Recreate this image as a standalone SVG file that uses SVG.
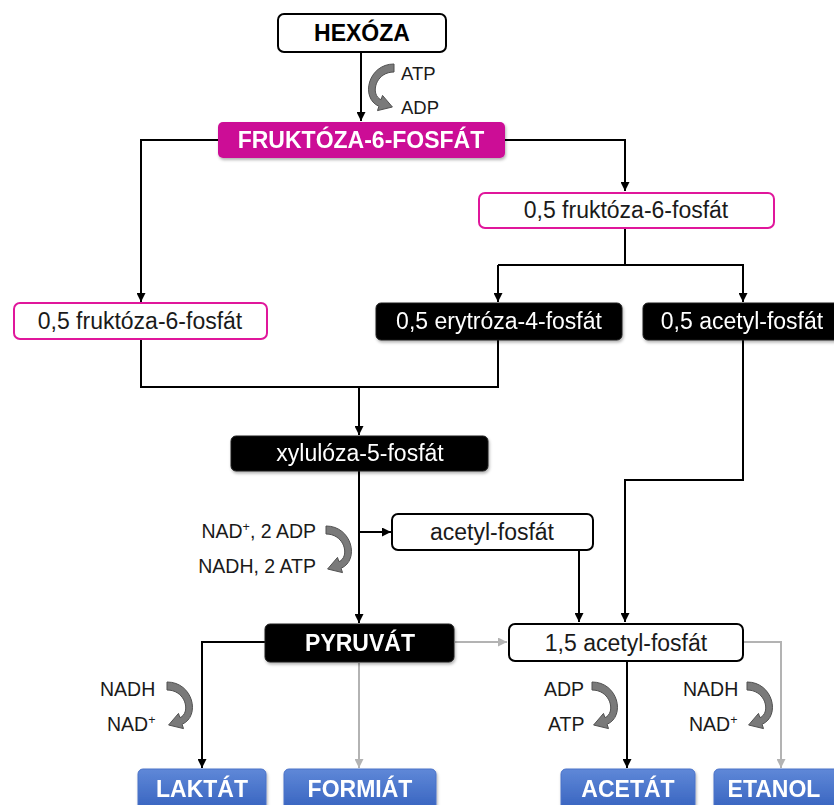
<svg xmlns="http://www.w3.org/2000/svg" width="834" height="805" viewBox="0 0 834 805">
<defs>
<style>
text{font-family:"Liberation Sans",Arial,sans-serif;}
.t{font-size:23px;fill:#1a1a1a;text-anchor:middle;}
.tw{font-size:23px;fill:#fff;text-anchor:middle;}
.b{font-size:23px;font-weight:bold;text-anchor:middle;}
.lbl{font-size:19.5px;fill:#1a1a1a;}
.lbs{font-size:18.5px;fill:#1a1a1a;}
.wbox{fill:#fff;stroke:#000;stroke-width:2;}
.pbox{fill:#fff;stroke:#e0169b;stroke-width:2;}
.kbox{fill:#000;stroke:#222;stroke-width:1;}
.blue{fill:url(#bg);stroke:#4a72c8;stroke-width:1;}
.c{fill:none;stroke:#000;stroke-width:2;}
.g{fill:none;stroke:#b3b3b3;stroke-width:2;}
.curl{fill:#7a7a7a;stroke:#505050;stroke-width:1;}
</style>
<linearGradient id="bg" x1="0" y1="0" x2="0" y2="1">
<stop offset="0" stop-color="#5f88d8"/>
<stop offset="1" stop-color="#3460bd"/>
</linearGradient>
<filter id="sh" x="-10%" y="-20%" width="120%" height="150%">
<feDropShadow dx="1" dy="2" stdDeviation="1.5" flood-color="#000" flood-opacity="0.3"/>
</filter>
<marker id="ah" viewBox="0 0 10 10" refX="10" refY="5" markerWidth="9" markerHeight="9" markerUnits="userSpaceOnUse" orient="auto">
<path d="M0,0 L10,5 L0,10 z" fill="#000"/>
</marker>
<marker id="ahg" viewBox="0 0 10 10" refX="10" refY="5" markerWidth="9" markerHeight="9" markerUnits="userSpaceOnUse" orient="auto">
<path d="M0,0 L10,5 L0,10 z" fill="#b3b3b3"/>
</marker>
<path id="curl" class="curl" d="M0,-4 C26,-4 34,30 15.1,38.3 L16.5,42.6 L1.6,39 L11.5,27.4 L12.9,31.7 C24,27 19,4 0,4 Z"/>
</defs>
<rect width="834" height="805" fill="#fff"/>

<g id="connectors">
<path class="c" d="M361,52 V121" marker-end="url(#ah)"/>
<path class="c" d="M218,140 H141 V302" marker-end="url(#ah)"/>
<path class="c" d="M505,140 H625 V191" marker-end="url(#ah)"/>
<path class="c" d="M625,229 V265"/>
<path class="c" d="M498,265 H743 V302" marker-end="url(#ah)"/>
<path class="c" d="M498,265 V302" marker-end="url(#ah)"/>
<path class="c" d="M141,339 V387 H498 V340"/>
<path class="c" d="M359,387 V435" marker-end="url(#ah)"/>
<path class="c" d="M359,471 V623" marker-end="url(#ah)"/>
<path class="c" d="M359,532 H391" marker-end="url(#ah)"/>
<path class="c" d="M579,550 V622" marker-end="url(#ah)"/>
<path class="c" d="M743,339 V480 H625 V622" marker-end="url(#ah)"/>
<path class="c" d="M265,642 H202 V768" marker-end="url(#ah)"/>
<path class="g" d="M359,663 V768" marker-end="url(#ahg)"/>
<path class="g" d="M455,642 H507" marker-end="url(#ahg)"/>
<path class="c" d="M627,662 V768" marker-end="url(#ah)"/>
<path class="g" d="M744,642 H781 V768" marker-end="url(#ahg)"/>
</g>

<g id="cofactors">
<use href="#curl" transform="translate(394,68) scale(-1,1)"/>
<text class="lbs" x="401" y="80">ATP</text>
<text class="lbs" x="401" y="114">ADP</text>
<use href="#curl" transform="translate(326,530)"/>
<text class="lbl" x="316" y="538" text-anchor="end">NAD<tspan font-size="12.5" dy="-7">+</tspan><tspan dy="7">, 2 ADP</tspan></text>
<text class="lbl" x="316" y="573" text-anchor="end">NADH, 2 ATP</text>
<use href="#curl" transform="translate(167,686)"/>
<text class="lbl" x="100" y="696">NADH</text>
<text class="lbl" x="107" y="731">NAD<tspan font-size="12.5" dy="-7">+</tspan></text>
<use href="#curl" transform="translate(592,686)"/>
<text class="lbl" x="544" y="696">ADP</text>
<text class="lbl" x="548" y="731">ATP</text>
<use href="#curl" transform="translate(747,686)"/>
<text class="lbl" x="683" y="696">NADH</text>
<text class="lbl" x="689" y="731">NAD<tspan font-size="12.5" dy="-7">+</tspan></text>
</g>

<g id="hexoza">
<rect class="wbox" x="278" y="14" width="168" height="38" rx="6"/>
<text class="b" x="362" y="41" fill="#000">HEXÓZA</text>
</g>
<g id="f6p" filter="url(#sh)">
<rect x="218" y="122" width="287" height="36" rx="5" fill="#cc0c96"/>
<text class="b" x="361" y="148" fill="#fff">FRUKTÓZA-6-FOSFÁT</text>
</g>
<g id="f6p-right">
<rect class="pbox" x="479" y="193" width="295" height="35" rx="6"/>
<text class="t" x="626" y="218">0,5 fruktóza-6-fosfát</text>
</g>
<g id="f6p-left">
<rect class="pbox" x="14" y="303" width="253" height="36" rx="6"/>
<text class="t" x="140" y="329">0,5 fruktóza-6-fosfát</text>
</g>
<g id="e4p" filter="url(#sh)">
<rect class="kbox" x="376" y="303" width="246" height="37" rx="5"/>
<text class="tw" x="499" y="329">0,5 erytróza-4-fosfát</text>
</g>
<g id="acp-half" filter="url(#sh)">
<rect class="kbox" x="643" y="303" width="200" height="37" rx="5"/>
<text class="tw" x="742" y="329">0,5 acetyl-fosfát</text>
</g>
<g id="x5p" filter="url(#sh)">
<rect class="kbox" x="231" y="436" width="257" height="35" rx="5"/>
<text class="tw" x="360" y="461">xylulóza-5-fosfát</text>
</g>
<g id="acp">
<rect class="wbox" x="392" y="514" width="201" height="36" rx="6"/>
<text class="t" x="492" y="540">acetyl-fosfát</text>
</g>
<g id="pyruvat" filter="url(#sh)">
<rect class="kbox" x="265" y="624" width="189" height="38" rx="5"/>
<text class="b" x="360" y="651" fill="#fff">PYRUVÁT</text>
</g>
<g id="acp15">
<rect class="wbox" x="509" y="624" width="234" height="37" rx="6"/>
<text class="t" x="626" y="651">1,5 acetyl-fosfát</text>
</g>
<g id="laktat" filter="url(#sh)">
<rect class="blue" x="138" y="769" width="128" height="44" rx="5"/>
<text class="b" x="202" y="797" fill="#fff">LAKTÁT</text>
</g>
<g id="formiat" filter="url(#sh)">
<rect class="blue" x="284" y="769" width="152" height="44" rx="5"/>
<text class="b" x="360" y="797" fill="#fff">FORMIÁT</text>
</g>
<g id="acetat" filter="url(#sh)">
<rect class="blue" x="561" y="769" width="134" height="44" rx="5"/>
<text class="b" x="628" y="797" fill="#fff">ACETÁT</text>
</g>
<g id="etanol" filter="url(#sh)">
<rect class="blue" x="714" y="769" width="130" height="44" rx="5"/>
<text class="b" x="774" y="797" fill="#fff">ETANOL</text>
</g>
</svg>
